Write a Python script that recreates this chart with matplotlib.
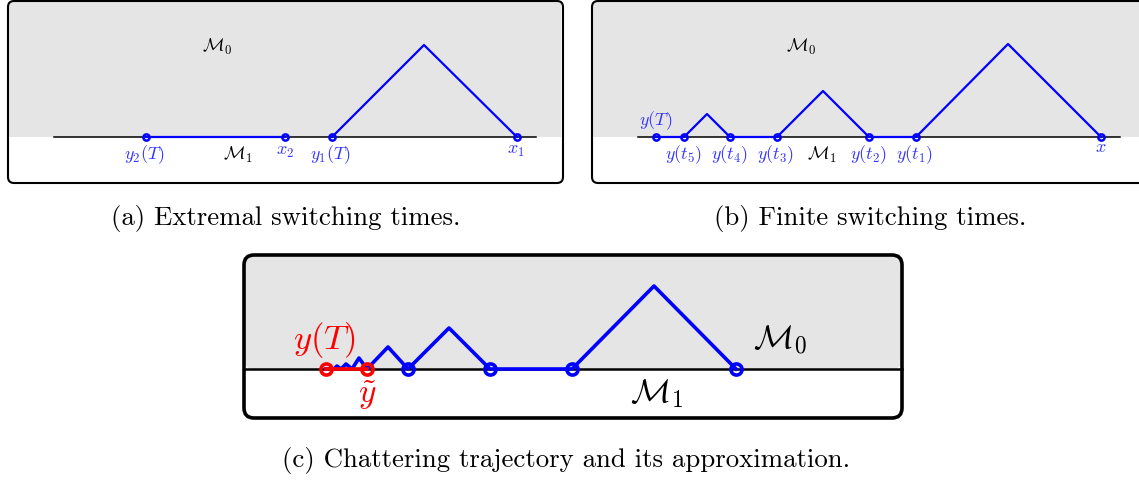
import matplotlib
matplotlib.use("Agg")
import matplotlib.pyplot as plt
from matplotlib.patches import FancyBboxPatch, Rectangle

plt.rcParams["mathtext.fontset"] = "cm"
plt.rcParams["axes.unicode_minus"] = False

BLUE = "#0000ff"
LBLUE = "#3535ff"
RED = "#ff0000"
GRAY = "#e5e5e5"

# panel (a): trajectory vertices (x, y) in pixel units, baseline at y=137
a_base_y = 137
a_traj1_x = [332, 424, 517]
a_traj1_y = [137, 45, 137]
a_traj2_x = [146, 285]
a_traj2_y = [137, 137]
a_pts_x = [146, 285, 332, 517]
a_labels = [r"$y_2(T)$", r"$x_2$", r"$y_1(T)$", r"$x_1$"]
a_label_x = [145, 285, 331, 516]
a_label_y = [155, 151, 155, 150]

# panel (b)
b_base_y = 137
b_traj_x = [656, 684, 707, 730, 777, 823, 869, 916, 1008, 1101]
b_traj_y = [137, 137, 114, 137, 137, 91, 137, 137, 44, 137]
b_pts_x = [656, 684, 730, 777, 869, 916, 1101]
b_labels = [r"$y(t_5)$", r"$y(t_4)$", r"$y(t_3)$", r"$y(t_2)$", r"$y(t_1)$", r"$x$"]
b_label_x = [684, 730, 776, 869, 915, 1101]
b_label_y = [155, 155, 155, 155, 155, 147]

# panel (c): chattering trajectory
c_base_y = 369
c_traj_x = [736, 654, 572, 490, 449, 408, 388, 367, 359, 352, 346, 341, 337, 334, 331, 329, 326]
c_traj_y = [369, 286, 369, 369, 328, 369, 347, 369, 358, 369, 364, 369, 366, 369, 368, 369, 369]
c_pts_x = [408, 490, 572, 736]
c_red_x = [326, 367]

fig = plt.figure(figsize=(11.39, 4.80), dpi=100)
ax = fig.add_axes([0, 0, 1, 1])
ax.set_xlim(0, 1139)
ax.set_ylim(480, 0)
ax.axis("off")

# ---- panel (a)
ax.add_patch(Rectangle((9, 1), 552, a_base_y - 1, color=GRAY, lw=0, zorder=0))
ax.add_patch(FancyBboxPatch((8, 1), 555, 182, boxstyle="round,pad=0,rounding_size=6",
                            fc="none", ec="black", lw=1.5, zorder=3))
ax.plot([54, 536], [a_base_y, a_base_y], color="black", lw=1.1, zorder=1)
ax.plot(a_traj2_x, a_traj2_y, color=BLUE, lw=1.6, zorder=2)
ax.plot(a_traj1_x, a_traj1_y, color=BLUE, lw=1.6, zorder=2)
ax.plot(a_pts_x, [a_base_y] * len(a_pts_x), "o", ms=4.5, mfc="none", mec=BLUE, mew=1.8, zorder=4)
for t, x, y in zip(a_labels, a_label_x, a_label_y):
    ax.text(x, y, t, color=LBLUE, fontsize=13, ha="center", va="center")
ax.text(217, 47, r"$\mathcal{M}_0$", fontsize=13, ha="center", va="center")
ax.text(238, 155, r"$\mathcal{M}_1$", fontsize=13, ha="center", va="center")

# ---- panel (b)
ax.add_patch(Rectangle((593, 1), 560, b_base_y - 1, color=GRAY, lw=0, zorder=0))
ax.add_patch(FancyBboxPatch((592, 1), 580, 182, boxstyle="round,pad=0,rounding_size=6",
                            fc="none", ec="black", lw=1.5, zorder=3))
ax.plot([638, 1120], [b_base_y, b_base_y], color="black", lw=1.1, zorder=1)
ax.plot(b_traj_x, b_traj_y, color=BLUE, lw=1.6, zorder=2)
ax.plot(b_pts_x, [b_base_y] * len(b_pts_x), "o", ms=4.5, mfc="none", mec=BLUE, mew=1.8, zorder=4)
for t, x, y in zip(b_labels, b_label_x, b_label_y):
    ax.text(x, y, t, color=LBLUE, fontsize=13, ha="center", va="center")
ax.text(656, 121, r"$y(T)$", color=LBLUE, fontsize=13, ha="center", va="center")
ax.text(801, 47, r"$\mathcal{M}_0$", fontsize=13, ha="center", va="center")
ax.text(822, 155, r"$\mathcal{M}_1$", fontsize=13, ha="center", va="center")

# ---- panel (c)
ax.add_patch(FancyBboxPatch((244, 255), 658, c_base_y - 255, boxstyle="round,pad=0,rounding_size=10",
                            fc=GRAY, ec="none", lw=0, zorder=0))
ax.add_patch(FancyBboxPatch((244, 255), 658, 163, boxstyle="round,pad=0,rounding_size=10",
                            fc="none", ec="black", lw=2.6, zorder=3))
ax.plot([244, 902], [c_base_y, c_base_y], color="black", lw=1.8, zorder=1)
ax.plot(c_traj_x, c_traj_y, color=BLUE, lw=2.6, zorder=2)
ax.plot(c_red_x, [c_base_y] * 2, color=RED, lw=2.6, zorder=3)
ax.plot(c_pts_x, [c_base_y] * len(c_pts_x), "o", ms=8, mfc="none", mec=BLUE, mew=2.6, zorder=4)
ax.plot(c_red_x, [c_base_y] * 2, "o", ms=8, mfc="none", mec=RED, mew=2.6, zorder=4)
ax.text(324, 340, r"$y(T)$", color=RED, fontsize=25, ha="center", va="center")
ax.text(367, 395, r"$\tilde{y}$", color=RED, fontsize=24, ha="center", va="center")
ax.text(780, 339, r"$\mathcal{M}_0$", fontsize=24, ha="center", va="center")
ax.text(657, 394, r"$\mathcal{M}_1$", fontsize=24, ha="center", va="center")

# ---- captions
cap = dict(fontsize=19.3, family="cmr10", ha="center", va="center")
ax.text(286, 218, "(a) Extremal switching times.", **cap)
ax.text(870, 218, "(b) Finite switching times.", **cap)
ax.text(566, 460, "(c) Chattering trajectory and its approximation.", **cap)

fig.savefig("out.png", dpi=100)
